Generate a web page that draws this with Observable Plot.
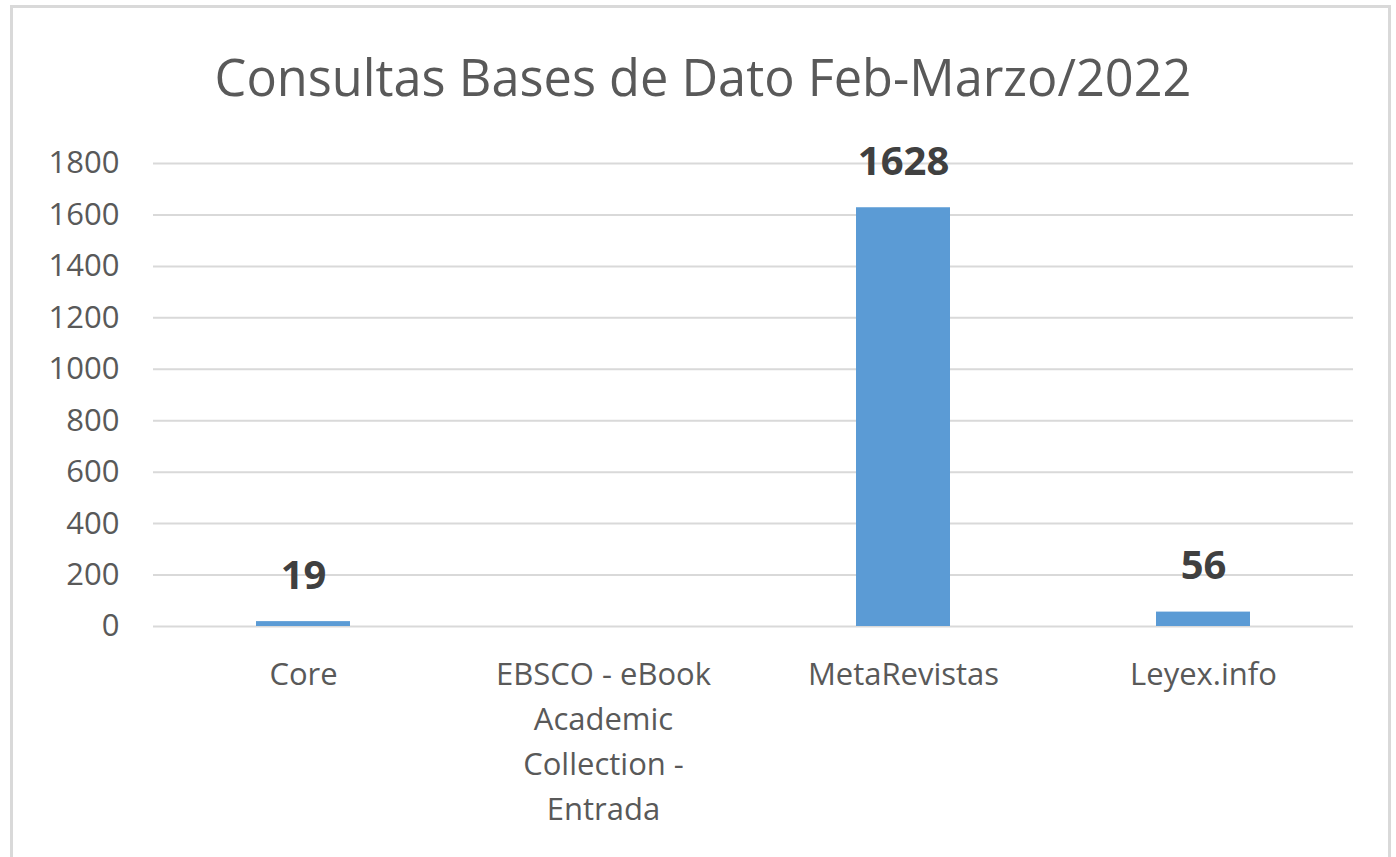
<!DOCTYPE html>
<html>
<head>
<meta charset="utf-8">
<script src="https://cdn.jsdelivr.net/npm/d3@7"></script>
<script src="https://cdn.jsdelivr.net/npm/@observablehq/plot@0.6"></script>
<style>
  html, body { margin: 0; padding: 0; background: #fff; overflow: hidden; }
  #frame { position: absolute; left: 10px; top: 5px; width: 1381px; height: 900px; border: 3px solid #d9d9d9; box-sizing: border-box; }
  #title { position: absolute; left: 0; width: 1406px; top: 42px; text-align: center; font-family: "Open Sans", sans-serif; font-size: 50.5px; color: #595959; line-height: normal; white-space: nowrap; }
  #chart { position: absolute; left: 0; top: 130px; }
</style>
</head>
<body>
<div id="frame"></div>
<div id="title">Consultas Bases de Dato Feb-Marzo/2022</div>
<div id="chart"></div>
<script>
const categories = ["Core", "EBSCO - eBook Academic Collection - Entrada", "MetaRevistas", "Leyex.info"];
const categoryLabels = ["Core", "EBSCO - eBook\nAcademic\nCollection -\nEntrada", "MetaRevistas", "Leyex.info"];
const values = [19, null, 1628, 56];
const yTicks = [0, 200, 400, 600, 800, 1000, 1200, 1400, 1600, 1800];

const data = categories.map((c, i) => ({category: c, value: values[i]}));
const present = data.filter(d => d.value != null);
const labelOf = new Map(categories.map((c, i) => [c, categoryLabels[i]]));

const chart = Plot.plot({
  width: 1396,
  height: 727,
  marginTop: 33,
  marginBottom: 231,
  marginLeft: 153,
  marginRight: 43,
  style: {fontFamily: "Open Sans, sans-serif", background: "transparent"},
  x: {domain: categories, paddingInner: 0.687, paddingOuter: 0.3435},
  y: {domain: [0, 1800]},
  marks: [
    Plot.gridY(yTicks, {stroke: "#d9d9d9", strokeOpacity: 1, strokeWidth: 2}),
    Plot.axisY(yTicks, {tickSize: 0, tickPadding: 34, fontSize: 31, fill: "#595959", label: null,
      tickFormat: d => String(d)}),
    Plot.axisX({tickSize: 0, tickPadding: 27, fontSize: 31, fill: "#595959", label: null, lineHeight: 1.45,
      tickFormat: d => labelOf.get(d)}),
    Plot.barY(present, {x: "category", y: "value", fill: "#5b9bd5"}),
    Plot.text(present, {x: "category", y: "value", text: d => String(d.value), dy: -33, lineAnchor: "bottom",
      fontSize: 40, fontWeight: "bold", fill: "#404040"})
  ]
});
document.getElementById("chart").appendChild(chart);
</script>
</body>
</html>
